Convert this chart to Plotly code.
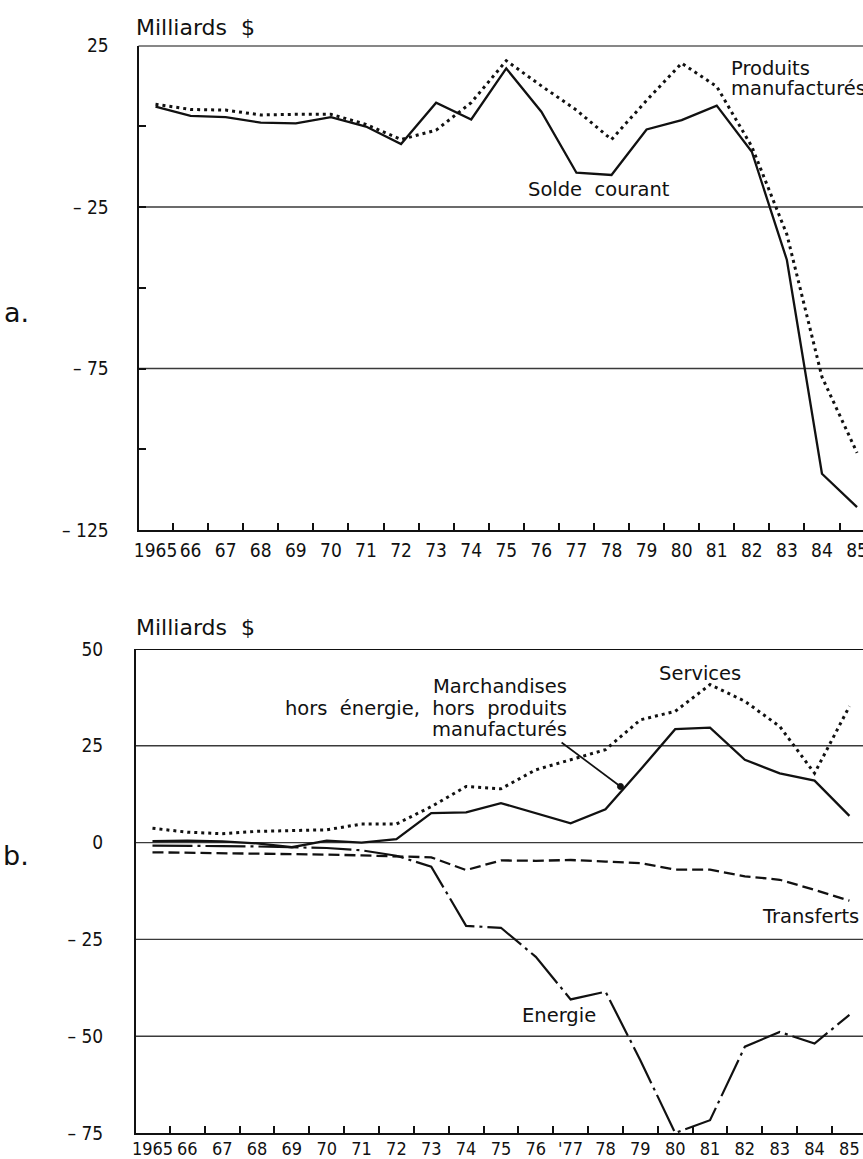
import plotly.graph_objects as go

# ---------------- data (Milliards $) ----------------
years = list(range(1965, 1986))
year_labels_a = ["1965", "66", "67", "68", "69", "70", "71", "72", "73", "74", "75",
                 "76", "77", "78", "79", "80", "81", "82", "83", "84", "85"]
year_labels_b = ["1965", "66", "67", "68", "69", "70", "71", "72", "73", "74", "75",
                 "76", "'77", "78", "79", "80", "81", "82", "83", "84", "85"]

# panel a
solde_courant = [6.1, 3.2, 2.8, 1.1, 0.9, 2.8, -0.1, -5.5, 7.3, 2.1, 17.9,
                 4.5, -14.4, -15.1, -1.0, 1.9, 6.4, -7.9, -41.4, -107.6, -117.9]
produits_manufactures = [6.8, 5.2, 5.0, 3.5, 3.7, 3.7, 0.6, -4.1, -1.2, 7.3, 20.3,
                         12.5, 5.0, -4.1, 8.0, 19.5, 12.3, -6.3, -33.5, -77.6, -101.1]
a_tickvals = [25, 0, -25, -50, -75, -100, -125]
a_ticktext = ["25", "", "\u2013 25", "", "\u2013 75", "", "\u2013 125"]
a_gridvals = [-25, -75]

# panel b
services = [3.7, 2.7, 2.3, 2.9, 3.1, 3.3, 4.8, 4.8, 9.3, 14.5, 13.9,
            18.8, 21.4, 24.0, 31.7, 33.9, 40.8, 36.5, 30.0, 17.9, 35.2]
marchandises = [0.4, 0.5, 0.3, -0.2, -1.2, 0.5, 0.0, 0.9, 7.6, 7.8, 10.2,
                7.6, 5.0, 8.6, 18.8, 29.3, 29.7, 21.4, 17.9, 16.0, 6.9]
transferts = [-2.5, -2.6, -2.7, -2.8, -2.9, -3.1, -3.3, -3.6, -3.8, -7.1, -4.6,
              -4.7, -4.5, -4.9, -5.3, -7.0, -7.0, -8.7, -9.6, -12.2, -15.0]
energie = [-0.8, -0.8, -0.9, -1.0, -1.2, -1.4, -2.0, -3.4, -6.2, -21.5, -22.0,
           -29.5, -40.5, -38.5, -56.2, -75.0, -71.7, -52.7, -48.9, -51.9, -44.5]
b_tickvals = [50, 25, 0, -25, -50, -75]
b_ticktext = ["50", "25", "0", "\u2013 25", "\u2013 50", "\u2013 75"]
b_gridvals = [25, 0, -25, -50]

# pointer from the "Marchandises" label to its curve (axis coordinates)
pointer_from = (1976.74, 25.85)
pointer_to = (1978.43, 14.5)

# ---------------- styling ----------------
W, H = 863, 1159
INK = "#111111"
GRID = "#3a3a3a"
FONT = "DejaVu Sans, Liberation Sans, Arial, sans-serif"
COND = "DejaVu Sans Condensed, Liberation Sans Narrow, DejaVu Sans, sans-serif"


def fx(px):
    return px / W


def fy(py):
    return 1 - py / H


fig = go.Figure()

fig.add_trace(go.Scatter(x=years, y=solde_courant, mode="lines", xaxis="x", yaxis="y",
                         line=dict(color=INK, width=2.3), hoverinfo="skip", showlegend=False))
fig.add_trace(go.Scatter(x=years, y=produits_manufactures, mode="lines", xaxis="x", yaxis="y",
                         line=dict(color=INK, width=3, dash="3px,4px"), hoverinfo="skip",
                         showlegend=False))

fig.add_trace(go.Scatter(x=years, y=services, mode="lines", xaxis="x2", yaxis="y2",
                         line=dict(color=INK, width=3, dash="3px,4px"), hoverinfo="skip",
                         showlegend=False))
fig.add_trace(go.Scatter(x=years, y=marchandises, mode="lines", xaxis="x2", yaxis="y2",
                         line=dict(color=INK, width=2.3), hoverinfo="skip", showlegend=False))
fig.add_trace(go.Scatter(x=years, y=transferts, mode="lines", xaxis="x2", yaxis="y2",
                         line=dict(color=INK, width=2.3, dash="11px,5px"), hoverinfo="skip",
                         showlegend=False))
fig.add_trace(go.Scatter(x=years, y=energie, mode="lines", xaxis="x2", yaxis="y2",
                         line=dict(color=INK, width=2.2, dash="40px,5px,3px,5px"),
                         hoverinfo="skip", showlegend=False))


def xcommon(size, standoff):
    return dict(tickmode="array", ticks="", showline=True, linecolor=INK, linewidth=2,
                showgrid=False, zeroline=False, fixedrange=True, ticklabeloverflow="allow",
                automargin=False, tickangle=0,
                tickfont=dict(family=COND, size=size, color=INK), ticklabelstandoff=standoff,
                minor=dict(tickmode="array", tickvals=[y + 0.5 for y in years],
                           ticks="inside", ticklen=7, tickwidth=1.5, tickcolor=INK,
                           showgrid=False))


ycommon = dict(tickmode="array", showline=True, linecolor=INK, linewidth=2, showgrid=False,
               zeroline=False, fixedrange=True, automargin=False,
               tickfont=dict(family=COND, size=19, color=INK))

fig.update_layout(
    template="none",
    width=W, height=H, margin=dict(l=0, r=0, t=0, b=0, pad=0),
    paper_bgcolor="white", plot_bgcolor="white",
    font=dict(family=FONT, color=INK),
    xaxis=dict(domain=[fx(138.5), 1], range=[1964.515, 1985.17], anchor="y",
               tickvals=years, ticktext=year_labels_a, **xcommon(19, 2)),
    yaxis=dict(domain=[fy(530), fy(45.5)], range=[-125, 25], anchor="x",
               tickvals=a_tickvals, ticktext=a_ticktext,
               ticks="inside", ticklen=7, tickwidth=1.5, tickcolor=INK,
               ticklabelstandoff=24, **ycommon),
    xaxis2=dict(domain=[fx(136), 1], range=[1964.527, 1985.39], anchor="y2",
                tickvals=years, ticktext=year_labels_b, **xcommon(18, -2)),
    yaxis2=dict(domain=[fy(1133), fy(649)], range=[-75, 50], anchor="x2",
                tickvals=b_tickvals, ticktext=b_ticktext, ticks="",
                ticklabelstandoff=27, **ycommon),
)

shapes = []
shapes.append(dict(type="line", xref="x domain", yref="y", x0=0, x1=1, y0=a_tickvals[0],
                   y1=a_tickvals[0], line=dict(color=INK, width=2), layer="below"))
for v in a_gridvals:
    shapes.append(dict(type="line", xref="x domain", yref="y", x0=0, x1=1, y0=v, y1=v,
                       line=dict(color=GRID, width=1.4), layer="below"))
shapes.append(dict(type="line", xref="x2 domain", yref="y2", x0=0, x1=1, y0=b_tickvals[0],
                   y1=b_tickvals[0], line=dict(color=INK, width=2), layer="below"))
for v in b_gridvals:
    shapes.append(dict(type="line", xref="x2 domain", yref="y2", x0=0, x1=1, y0=v, y1=v,
                       line=dict(color=GRID, width=1.4), layer="below"))
# pointer line + dot
shapes.append(dict(type="line", xref="x2", yref="y2",
                   x0=pointer_from[0], y0=pointer_from[1], x1=pointer_to[0], y1=pointer_to[1],
                   line=dict(color=INK, width=1.7)))
shapes.append(dict(type="circle", xref="x2", yref="y2", xsizemode="pixel", ysizemode="pixel",
                   xanchor=pointer_to[0], yanchor=pointer_to[1], x0=-3, x1=3, y0=-3, y1=3,
                   fillcolor=INK, line=dict(color=INK, width=1)))
fig.update_layout(shapes=shapes)

LBL = 19.5


def txt(text, x, y, size=LBL, xanchor="left"):
    return dict(text=text, xref="paper", yref="paper", x=fx(x), y=fy(y - 0.35 * size),
                xanchor=xanchor, yanchor="middle", showarrow=False,
                font=dict(family=FONT, size=size, color=INK))


NB = "\u00a0"
annotations = [
    txt("Milliards" + NB + NB + "$", 134, 35, size=22),
    txt("Milliards" + NB + NB + "$", 134, 635, size=22),
    txt("a.", 2, 321.7, size=27),
    txt("b.", 1, 865, size=27),
    txt("Produits", 729, 75),
    txt("manufactur\u00e9s", 729, 95),
    txt("Solde" + NB + NB + "courant", 525.5, 196.7),
    txt("Services", 657, 680),
    txt("Marchandises", 569, 693.3, xanchor="right"),
    txt("hors" + NB + NB + "\u00e9nergie," + NB + NB + "hors" + NB + NB + "produits",
        569, 715, xanchor="right"),
    txt("manufactur\u00e9s", 569, 736.5, xanchor="right"),
    txt("Energie", 520, 1022),
    txt("Transferts", 861, 923, xanchor="right"),
]
fig.update_layout(annotations=annotations)

fig.write_html("out.html", config={"displayModeBar": False},
               post_script="document.body.style.margin='0';document.body.style.overflow='hidden';")
